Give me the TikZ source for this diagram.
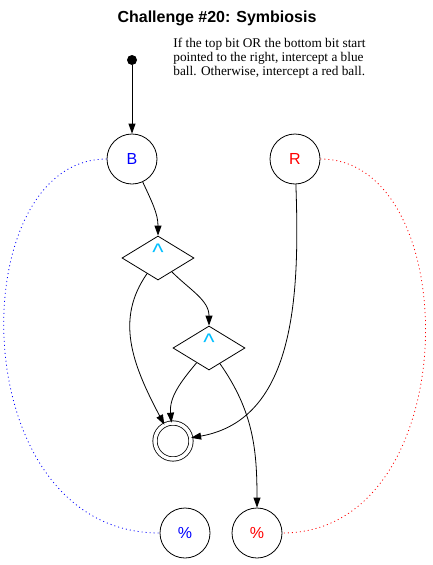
\documentclass[tikz,border=0pt]{standalone}
\usepackage{fontspec}
\setmainfont{Liberation Serif}
\setsansfont{Liberation Sans}
\usetikzlibrary{shapes.geometric, arrows.meta, positioning}

\definecolor{caretcyan}{RGB}{0,191,255}

\begin{document}
\begin{tikzpicture}[>={Triangle[length=10pt, width=7pt]}, x=1pt, y=1pt, line width=0.8pt,
  ball/.style={circle, draw, minimum size=50pt, inner sep=0pt, font=\sffamily\fontsize{16}{16}\selectfont},
  gate/.style={diamond, draw, minimum width=72pt, minimum height=44pt, inner sep=0pt,
    label={[text=caretcyan, font=\sffamily\fontsize{24}{24}\selectfont, yshift=6pt]center:\textasciicircum}},
  link/.style={dash pattern=on 1pt off 3pt}]

  % --- BOUNDING BOX ---
  \useasboundingbox (0,0) rectangle (433,-565);

  % --- TITLE AND NOTE ---
  \node (title) at (217,-18) {\sffamily\bfseries\fontsize{16}{18}\selectfont Challenge \#20: Symbiosis};
  \node (note) [anchor=north west, align=left, inner sep=0pt, font=\fontsize{13.3}{14}\selectfont]
    at (173,-38) {If the top bit OR the bottom bit start\\pointed to the right, intercept a blue\\ball. Otherwise, intercept a red ball.};

  % --- INPUTS ---
  \node (start) [circle, fill, inner sep=0pt, minimum size=10pt] at (132,-60) {};
  \node (B) [ball, text=blue] at (132,-159) {B};
  \node (R) [ball, text=red] at (295,-159) {R};

  % --- GATES ---
  \node (and1) [gate] at (158,-258) {};
  \node (and2) [gate] at (209,-348) {};

  % --- OUTPUTS ---
  \node (done) [circle, draw, double, double distance=3.5pt, minimum size=36pt] at (173,-441) {};
  \node (pctB) [ball, text=blue] at (185,-533) {\%};
  \node (pctR) [ball, text=red] at (257,-533) {\%};

  % --- CONNECTIONS ---
  \draw [->] (start) -- (B);
  \draw [->] (B) to[out=-65, in=90] (and1);
  \draw [->] (and1) to[out=-125, in=118, out distance=55pt, in distance=70pt] (done);
  \draw [->] (and1) to[out=-45, in=90] (and2);
  \draw [->] (and2) to[out=-130, in=95] (done);
  \draw [->] (and2) to[out=-55, in=90] (pctR);
  \draw [->] (R) to[out=-88, in=10] (done);

  % Dotted links between the balls
  \draw [link, blue] (B) to[out=180, in=180, out distance=145pt, in distance=198pt] (pctB);
  \draw [link, red] (R) to[out=0, in=0, out distance=146pt, in distance=184pt] (pctR);

\end{tikzpicture}
\end{document}
